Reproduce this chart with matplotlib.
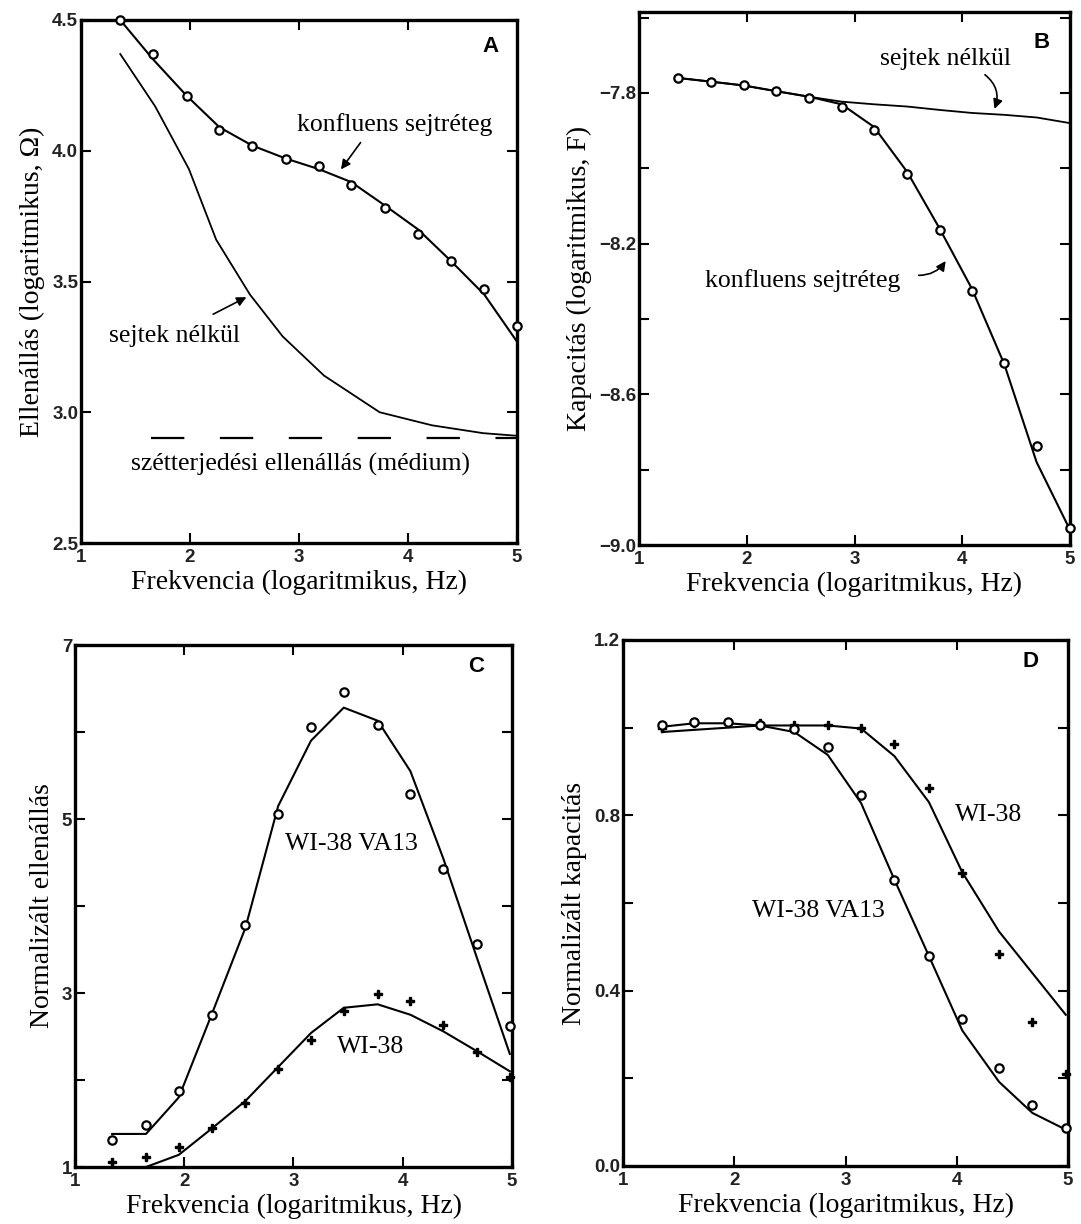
import matplotlib
matplotlib.use("Agg")
import matplotlib.pyplot as plt

# ---- data ----
# panel A
freq_a = [1.36, 1.66, 1.97, 2.27, 2.57, 2.88, 3.18, 3.48, 3.79, 4.09, 4.39, 4.70, 5.00]
res_conf_pts = [4.50, 4.37, 4.21, 4.08, 4.02, 3.97, 3.94, 3.87, 3.78, 3.68, 3.58, 3.47, 3.33]
res_conf_fit = [4.50, 4.35, 4.21, 4.09, 4.02, 3.97, 3.93, 3.88, 3.79, 3.70, 3.58, 3.45, 3.27]
freq_a_empty = [1.36, 1.68, 1.99, 2.24, 2.55, 2.85, 3.23, 3.74, 4.22, 4.69, 5.00]
res_empty = [4.37, 4.17, 3.93, 3.66, 3.45, 3.29, 3.14, 3.00, 2.95, 2.92, 2.91]
res_medium = 2.90

# panel B
freq_b = [1.36, 1.67, 1.97, 2.27, 2.58, 2.88, 3.18, 3.49, 3.79, 4.09, 4.39, 4.69, 5.00]
cap_conf_pts = [-7.76, -7.772, -7.778, -7.796, -7.812, -7.838, -7.898, -8.016, -8.164,
                -8.325, -8.517, -8.737, -8.955]
cap_conf_fit = [-7.76, -7.77, -7.78, -7.795, -7.81, -7.83, -7.89, -8.01, -8.16,
                -8.32, -8.52, -8.78, -8.96]
cap_empty = [-7.76, -7.77, -7.78, -7.795, -7.81, -7.823, -7.83, -7.836, -7.845,
             -7.853, -7.858, -7.865, -7.88]

# panel C
freq_c = [1.34, 1.65, 1.95, 2.25, 2.56, 2.86, 3.16, 3.46, 3.77, 4.07, 4.37, 4.68, 4.98]
nres_va13_pts = [1.31, 1.48, 1.87, 2.75, 3.78, 5.06, 6.06, 6.46, 6.08, 5.29, 4.42, 3.56, 2.62]
nres_va13_fit = [1.38, 1.38, 1.80, 2.75, 3.75, 5.15, 5.90, 6.28, 6.13, 5.55, 4.55, 3.40, 2.30]
nres_wi38_pts = [1.06, 1.12, 1.23, 1.45, 1.74, 2.13, 2.46, 2.79, 2.99, 2.91, 2.63, 2.32, 2.03]
nres_wi38_fit = [0.99, 1.00, 1.14, 1.44, 1.76, 2.15, 2.54, 2.83, 2.87, 2.75, 2.56, 2.33, 2.10]

# panel D
freq_d = [1.35, 1.64, 1.94, 2.23, 2.54, 2.84, 3.14, 3.44, 3.75, 4.05, 4.38, 4.68, 4.98]
ncap_va13_pts = [1.007, 1.012, 1.012, 1.007, 0.998, 0.956, 0.847, 0.653, 0.479, 0.336,
                 0.223, 0.140, 0.087]
ncap_va13_fit = [1.002, 1.010, 1.010, 1.005, 0.990, 0.938, 0.828, 0.653, 0.479, 0.309,
                 0.192, 0.121, 0.083]
ncap_wi38_pts = [1.000, 1.010, 1.010, 1.010, 1.007, 1.007, 0.999, 0.962, 0.863, 0.669,
                 0.483, 0.328, 0.211]
ncap_wi38_fit = [0.990, 0.995, 1.000, 1.005, 1.005, 1.005, 0.998, 0.935, 0.830, 0.670,
                 0.535, 0.440, 0.345]

xticks = [1, 2, 3, 4, 5]

SERIF = "Liberation Serif"
SANS = "Liberation Sans"

W, H = 1081, 1224
fig = plt.figure(figsize=(W / 100, H / 100), dpi=100)


def make_axes(left, right, top, bottom):
    return fig.add_axes([left / W, (H - bottom) / H, (right - left) / W, (bottom - top) / H])


def style(ax, ylim, major, minor, fmt, ylabel):
    ax.set_xlim(1, 5)
    ax.set_ylim(*ylim)
    ax.set_xticks(xticks)
    ax.set_yticks(major)
    ax.set_yticks(minor, minor=True)
    ax.set_yticklabels([fmt.format(v).replace("-", "\u2212") for v in major])
    ax.tick_params(which="both", direction="in", top=True, right=True, length=7, width=1.5,
                   labelsize=13.5, pad=4)
    ax.tick_params(axis="y", pad=2)
    for lab in ax.get_xticklabels() + ax.get_yticklabels():
        lab.set_fontfamily(SANS)
        lab.set_fontweight("bold")
        lab.set_color("#222222")
    for sp in ax.spines.values():
        sp.set_linewidth(2.4)
    ax.set_xlabel("Frekvencia (logaritmikus, Hz)", fontfamily=SERIF, fontsize=20, labelpad=3)
    ax.set_ylabel(ylabel, fontfamily=SERIF, fontsize=20, labelpad=5)


def panel_letter(ax, x, y, s):
    ax.text(x, y, s, fontfamily=SANS, fontweight="bold", fontsize=16, ha="center", va="center")


def note(ax, x, y, s):
    ax.text(x, y, s, fontfamily=SERIF, fontsize=18.5, ha="center", va="center")


circ = dict(marker="o", ms=6, mfc="white", mec="black", mew=1.6, ls="none", clip_on=False, zorder=3)
cross = dict(marker="P", ms=5.5, color="black", ls="none", clip_on=False, zorder=3)
arrow = dict(arrowstyle="-|>", color="black", lw=1.2, mutation_scale=14)

# ---- A ----
axA = make_axes(81, 517, 20, 543)
axA.plot(freq_a, res_conf_fit, color="black", lw=1.5)
axA.plot(freq_a, res_conf_pts, **circ)
axA.plot(freq_a_empty, res_empty, color="black", lw=1.3)
axA.plot([1.64, 5.0], [res_medium, res_medium], color="black", lw=1.6, ls=(0, (15, 16)))
style(axA, (2.5, 4.5), [2.5, 3.0, 3.5, 4.0, 4.5], [], "{:.1f}", "Ellenállás (logaritmikus, Ω)")
note(axA, 3.88, 4.10, "konfluens sejtréteg")
axA.annotate("", xy=(3.37, 3.92), xytext=(3.58, 4.04), arrowprops=arrow)
note(axA, 1.86, 3.29, "sejtek nélkül")
axA.annotate("", xy=(2.54, 3.445), xytext=(2.19, 3.37), arrowprops=arrow)
note(axA, 3.01, 2.80, "szétterjedési ellenállás (médium)")
panel_letter(axA, 4.76, 4.40, "A")

# ---- B ----
axB = make_axes(639, 1070, 12, 545)
axB.plot(freq_b, cap_empty, color="black", lw=1.3)
axB.plot(freq_b, cap_conf_fit, color="black", lw=1.5)
axB.plot(freq_b, cap_conf_pts, **circ)
style(axB, (-9.0, -7.585), [-9.0, -8.6, -8.2, -7.8], [-8.8, -8.4, -8.0, -7.6], "{:.1f}",
      "Kapacitás (logaritmikus, F)")
note(axB, 3.84, -7.711, "sejtek nélkül")
axB.annotate("", xy=(4.29, -7.849), xytext=(4.19, -7.747),
             arrowprops=dict(arrow, connectionstyle="arc3,rad=-0.4"))
note(axB, 2.52, -8.298, "konfluens sejtréteg")
axB.annotate("", xy=(3.86, -8.24), xytext=(3.57, -8.284),
             arrowprops=dict(arrow, connectionstyle="arc3,rad=0.3"))
panel_letter(axB, 4.74, -7.667, "B")

# ---- C ----
axC = make_axes(75, 512, 645, 1167)
axC.plot(freq_c, nres_va13_fit, color="black", lw=1.5)
axC.plot(freq_c, nres_va13_pts, **circ)
axC.plot(freq_c, nres_wi38_fit, color="black", lw=1.5)
axC.plot(freq_c, nres_wi38_pts, **cross)
style(axC, (1, 7), [1, 3, 5, 7], [2, 4, 6], "{:.0f}", "Normalizált ellenállás")
note(axC, 3.53, 4.71, "WI-38 VA13")
note(axC, 3.71, 2.38, "WI-38")
panel_letter(axC, 4.67, 6.75, "C")

# ---- D ----
axD = make_axes(623, 1068, 640, 1166)
axD.plot(freq_d, ncap_wi38_fit, color="black", lw=1.5)
axD.plot(freq_d, ncap_va13_fit, color="black", lw=1.5)
axD.plot(freq_d, ncap_wi38_pts, **cross)
axD.plot(freq_d, ncap_va13_pts, **circ)
style(axD, (0.0, 1.2), [0.0, 0.4, 0.8, 1.2], [0.2, 0.6, 1.0], "{:.1f}", "Normalizált kapacitás")
note(axD, 4.29, 0.80, "WI-38")
note(axD, 2.76, 0.582, "WI-38 VA13")
panel_letter(axD, 4.66, 1.152, "D")

fig.savefig("out.png", dpi=100, facecolor="white")
